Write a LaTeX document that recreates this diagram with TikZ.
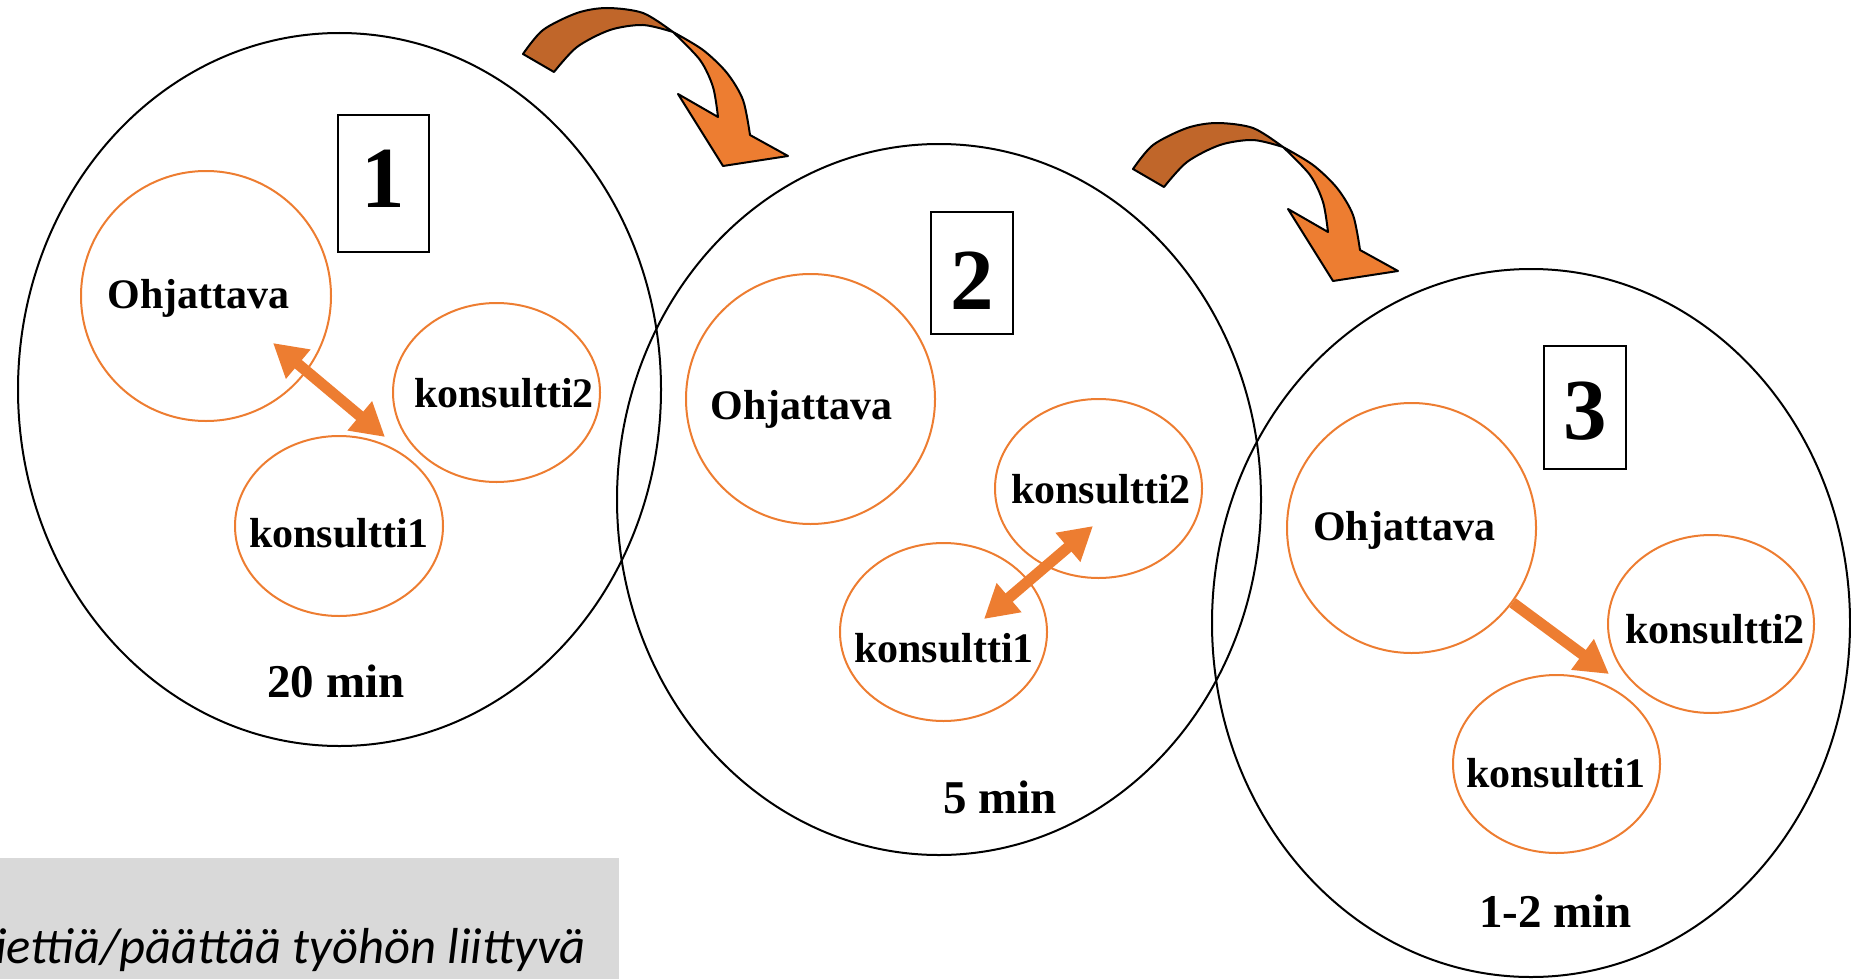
\documentclass[tikz,border=0pt]{standalone}
\usepackage{fontspec}
\setmainfont{Liberation Serif}
\newfontfamily\calibfont{Carlito}
\usetikzlibrary{arrows.meta,shapes.geometric}
\definecolor{orng}{HTML}{ED7D31}
\definecolor{orngdark}{HTML}{C0662A}
\definecolor{panelgray}{HTML}{D9D9D9}
\tikzset{
 bigell/.style={draw=black, line width=1pt, ellipse, inner sep=0pt},
 orcirc/.style={draw=orng, line width=1pt, ellipse, inner sep=0pt},
 lbl/.style={font=\fontsize{21}{25}\selectfont\bfseries, anchor=base, inner sep=0pt},
 tlbl/.style={font=\fontsize{23.5}{28}\selectfont\bfseries, anchor=base, inner sep=0pt},
 numbox/.style={draw=black, line width=1pt, rectangle, inner sep=0pt},
 numlbl/.style={font=\fontsize{43.5}{50}\selectfont\bfseries, anchor=base, inner sep=0pt},
 dblarrow/.style={draw=orng, line width=5.5pt, {Triangle[length=16.5pt,width=18pt]}-{Triangle[length=16.5pt,width=18pt]}},
 sglarrow/.style={draw=orng, line width=5.5pt, -{Triangle[length=16.5pt,width=18pt]}},
 bendback/.style={fill=orngdark, draw=black, line width=1pt, line join=round},
 bendfront/.style={fill=orng, draw=black, line width=1pt, line join=round},
 notetext/.style={font=\calibfont\itshape\fontsize{25.3}{30}\selectfont, anchor=base west, inner sep=0pt},
}
\newcommand\bentarrowshape{%
 \path[bendback] plot[smooth] coordinates {(523,54) (543,30) (577,13) (607,8) (643,13) (673,32)}
   -- plot[smooth] coordinates {(673,32) (643,25) (610,30) (577,47) (554,72)} -- cycle;
 \path[bendfront] plot[smooth] coordinates {(673,32) (703,50) (727,73) (743,100) (750,135)}
   -- (788,156) -- (723,166) -- (678,94) -- (718,117)
   -- plot[smooth] coordinates {(718,117) (713,87) (700,60) (673,32)} -- cycle;
}
\begin{document}
\begin{tikzpicture}[x=0.5pt,y=-0.5pt]
\useasboundingbox (0,0) rectangle (1851,979);
\clip (0,0) rectangle (1851,979);

% gray note panel
\fill[panelgray] (0,858) rectangle (619,979);
\node[notetext] (note) at (-5,963) {iettiä/päättää työhön liittyvä};

% big ellipses
\node[bigell, minimum width=321.5pt, minimum height=356.5pt] (E1) at (339.5,389.5) {};
\node[bigell, minimum width=322pt, minimum height=355.5pt] (E2) at (939,499.5) {};
\node[bigell, minimum width=319pt, minimum height=354pt] (E3) at (1531,623) {};

% number boxes
\node[numbox, minimum width=45.5pt, minimum height=68.5pt] (B1) at (383.5,183.5) {};
\node[numbox, minimum width=41pt, minimum height=61pt] (B2) at (972,273) {};
\node[numbox, minimum width=41pt, minimum height=61.5pt] (B3) at (1585,407.5) {};
\node[numlbl] (N1) at (383.5,207) {1};
\node[numlbl] (N2) at (972,309) {2};
\node[numlbl] (N3) at (1585,439) {3};

% orange circles
\node[orcirc, minimum width=125pt, minimum height=125pt] (oh1) at (206,296) {};
\node[orcirc, minimum width=103.5pt, minimum height=89.5pt] (k2a) at (496.5,392.5) {};
\node[orcirc, minimum width=104pt, minimum height=90pt] (k1a) at (339,526) {};
\node[orcirc, minimum width=124.5pt, minimum height=125pt] (oh2) at (810.5,399) {};
\node[orcirc, minimum width=103.5pt, minimum height=89.5pt] (k2b) at (1098.5,488.5) {};
\node[orcirc, minimum width=103.5pt, minimum height=89pt] (k1b) at (943.5,632) {};
\node[orcirc, minimum width=124.5pt, minimum height=125pt] (oh3) at (1411.5,528) {};
\node[orcirc, minimum width=103pt, minimum height=89pt] (k2c) at (1711,624) {};
\node[orcirc, minimum width=103.5pt, minimum height=89pt] (k1c) at (1556.5,764) {};

% labels
\node[lbl] (t-oh1) at (198.5,308) {Ohjattava};
\node[lbl] (t-k2a) at (504,407) {konsultti2};
\node[lbl] (t-k1a) at (339,547) {konsultti1};
\node[tlbl] (t-min1) at (336,697) {20 min};
\node[lbl] (t-oh2) at (801.5,419) {Ohjattava};
\node[lbl] (t-k2b) at (1101,503) {konsultti2};
\node[lbl] (t-k1b) at (944,662) {konsultti1};
\node[tlbl] (t-min2) at (1000,813) {5 min};
\node[lbl] (t-oh3) at (1404,540) {Ohjattava};
\node[lbl] (t-k2c) at (1715,643) {konsultti2};
\node[lbl] (t-k1c) at (1556,787) {konsultti1};
\node[tlbl] (t-min3) at (1555.5,927) {1-2 min};

% orange straight arrows
\coordinate (d1a) at (273,343);
\coordinate (d1b) at (385,437);
\draw[dblarrow] (d1a) -- (d1b);
\coordinate (d2a) at (1093,526);
\coordinate (d2b) at (984,619);
\draw[dblarrow] (d2a) -- (d2b);
\coordinate (d3b) at (1609,674);
\draw[sglarrow] (oh3) -- (d3b);

% curved arrows
\bentarrowshape
\begin{scope}[shift={(610,115)}]
\bentarrowshape
\end{scope}
\end{tikzpicture}
\end{document}
